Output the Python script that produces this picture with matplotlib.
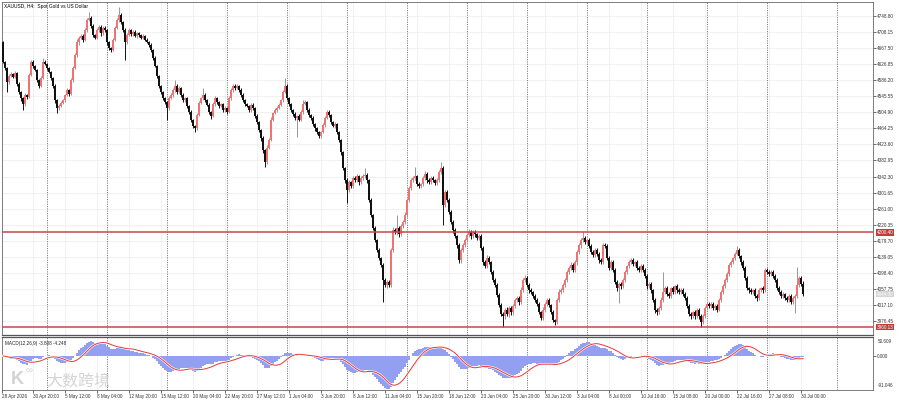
import numpy as np
import pandas as pd
import matplotlib
matplotlib.use("Agg")
import matplotlib.pyplot as plt
from matplotlib.transforms import blended_transform_factory

# XAUUSD H4 closes (one value per bar)
closes = [
    4633, 4617, 4582, 4597, 4602, 4595, 4605, 4577, 4557, 4541,
    4526, 4549, 4544, 4600, 4633, 4623, 4612, 4587, 4572, 4592,
    4633, 4628, 4617, 4607, 4592, 4572, 4536, 4516, 4521, 4529,
    4536, 4549, 4562, 4552, 4587, 4617, 4650, 4683, 4694, 4699,
    4689, 4714, 4739, 4744, 4724, 4701, 4694, 4714, 4722, 4706,
    4719, 4714, 4683, 4668, 4663, 4689, 4719, 4739, 4752, 4734,
    4714, 4683, 4701, 4714, 4704, 4709, 4699, 4706, 4701, 4694,
    4699, 4689, 4683, 4676, 4663, 4643, 4623, 4597, 4572, 4557,
    4541, 4531, 4516, 4541, 4549, 4562, 4572, 4557, 4567, 4549,
    4536, 4541, 4521, 4506, 4486, 4470, 4465, 4498, 4529, 4541,
    4549, 4536, 4524, 4506, 4496, 4526, 4541, 4531, 4521, 4526,
    4511, 4516, 4506, 4541, 4562, 4572, 4567, 4572, 4562, 4549,
    4536, 4526, 4521, 4511, 4524, 4516, 4496, 4480, 4460, 4440,
    4409, 4379, 4415, 4435, 4486, 4503, 4511, 4516, 4524, 4536,
    4557, 4572, 4541, 4526, 4511, 4501, 4491, 4496, 4486, 4506,
    4526, 4531, 4511, 4498, 4491, 4475, 4465, 4455, 4445, 4455,
    4473, 4491, 4506, 4498, 4480, 4470, 4475, 4455, 4435, 4404,
    4364, 4333, 4308, 4328, 4318, 4338, 4333, 4343, 4328, 4338,
    4343, 4346, 4333, 4283, 4245, 4212, 4181, 4156, 4135, 4118,
    4080, 4067, 4075, 4067, 4156, 4206, 4201, 4212, 4196, 4217,
    4227, 4245, 4283, 4313, 4333, 4338, 4343, 4323, 4318, 4323,
    4338, 4349, 4333, 4328, 4338, 4333, 4326, 4333, 4354, 4364,
    4270, 4303, 4283, 4252, 4227, 4206, 4191, 4168, 4130, 4156,
    4168, 4181, 4194, 4201, 4191, 4201, 4196, 4186, 4191, 4161,
    4125, 4115, 4135, 4125, 4100, 4080, 4067, 4042, 4016, 3993,
    3988, 4004, 3993, 4009, 3998, 4014, 4029, 4034, 4024, 4054,
    4080, 4085, 4067, 4054, 4049, 4039, 4029, 4019, 3998, 3983,
    4004, 4019, 4029, 4016, 3998, 3978, 3973, 4029, 4049, 4054,
    4067, 4080, 4100, 4110, 4118, 4105, 4125, 4151, 4168, 4181,
    4186, 4176, 4181, 4166, 4151, 4143, 4156, 4146, 4130, 4125,
    4168, 4166, 4135, 4110, 4125, 4105, 4075, 4059, 4070, 4064,
    4080, 4100, 4115, 4125, 4130, 4120, 4125, 4110, 4105, 4115,
    4105, 4090, 4064, 4070, 4054, 4029, 4004, 3998, 4009, 4029,
    4049, 4059, 4044, 4039, 4059, 4049, 4064, 4054, 4049, 4054,
    4044, 4034, 4014, 3993, 3988, 3998, 3988, 4004, 3988, 3973,
    3988, 4009, 4019, 4014, 4019, 4009, 4014, 4004, 4029, 4049,
    4064, 4080, 4095, 4118, 4125, 4135, 4146, 4156, 4140, 4125,
    4110, 4085, 4059, 4054, 4049, 4054, 4039, 4034, 4054, 4059,
    4054, 4105, 4100, 4095, 4100, 4090, 4080, 4059, 4049, 4039,
    4044, 4034, 4029, 4039, 4024, 4034, 4039, 4067, 4085, 4070,
    4044,
]
first_open = 4683

# upper / lower wick lengths in dollars
wick_up = [
    4, 3, 3, 6, 5, 4, 5, 3, 4, 3,   4, 6, 3, 5, 6, 4, 3, 4, 3, 5,
    10, 4, 3, 4, 3, 3, 4, 3, 5, 4,  4, 3, 5, 3, 4, 5, 6, 8, 5, 6,
    4, 6, 5, 16, 5, 4, 3, 6, 5, 4,  5, 4, 3, 4, 3, 5, 6, 5, 20, 4,
    3, 4, 5, 4, 3, 4, 5, 3, 4, 3,   4, 3, 4, 3, 4, 3, 4, 3, 4, 3,
    3, 4, 3, 6, 4, 5, 15, 4, 5, 3,  4, 3, 4, 3, 4, 3, 4, 6, 5, 4,
    18, 4, 3, 4, 3, 6, 5, 4, 3, 4,  3, 4, 3, 5, 6, 4, 5, 4, 3, 4,
    4, 3, 4, 3, 5, 4, 3, 4, 3, 4,   4, 3, 6, 5, 6, 4, 5, 4, 5, 4,
    6, 20, 4, 3, 4, 3, 4, 3, 5, 4,  10, 5, 3, 4, 3, 4, 3, 4, 3, 4,
    4, 5, 6, 4, 3, 4, 5, 3, 4, 3,   4, 3, 6, 5, 4, 6, 5, 6, 4, 5,
    5, 18, 4, 3, 4, 3, 4, 3, 4, 3,  5, 4, 6, 5, 6, 8, 6, 33, 5, 6,
    5, 6, 4, 5, 6, 5, 23, 4, 5, 4,  5, 6, 4, 5, 6, 5, 4, 5, 6, 15,
    6, 5, 6, 4, 5, 4, 5, 4, 6, 5,   5, 6, 5, 8, 5, 6, 5, 4, 6, 5,
    5, 6, 8, 5, 4, 5, 4, 5, 4, 5,   6, 5, 8, 5, 6, 5, 6, 5, 6, 8,
    6, 8, 5, 4, 5, 4, 5, 4, 5, 4,   6, 5, 6, 5, 4, 5, 4, 6, 8, 5,
    6, 5, 6, 5, 8, 5, 6, 5, 6, 5,   15, 5, 4, 5, 4, 5, 6, 5, 4, 5,
    6, 5, 4, 5, 6, 5, 4, 5, 4, 5,   6, 5, 4, 5, 6, 5, 4, 5, 6, 5,
    5, 6, 5, 4, 5, 4, 5, 4, 6, 8,   51, 5, 6, 5, 4, 5, 4, 5, 6, 5,
    5, 6, 5, 4, 5, 4, 5, 4, 5, 6,   5, 6, 4, 5, 4, 5, 4, 5, 6, 5,
    5, 6, 5, 4, 5, 4, 5, 10, 5, 4,  5, 4, 5, 4, 5, 4, 5, 4, 5, 4,
    5, 6, 5, 4, 5, 4, 5, 4, 5, 6,   5, 4, 5, 4, 5, 4, 5, 46, 6, 5,
    6,
]
wick_dn = [
    3, 5, 25, 4, 3, 4, 3, 4, 5, 6,  15, 4, 5, 3, 4, 5, 3, 6, 4, 3,
    3, 4, 5, 3, 4, 5, 6, 13, 4, 3,  3, 4, 3, 6, 3, 4, 3, 4, 6, 4,
    5, 3, 4, 3, 5, 6, 4, 3, 4, 6,   4, 5, 6, 4, 6, 3, 4, 3, 4, 6,
    5, 45, 4, 3, 5, 4, 3, 5, 4, 3,  3, 4, 3, 5, 4, 6, 4, 5, 6, 5,
    5, 6, 30, 4, 3, 4, 5, 6, 4, 5,  5, 4, 6, 5, 6, 5, 10, 4, 3, 4,
    4, 5, 4, 5, 8, 3, 4, 5, 4, 3,   5, 4, 6, 3, 4, 5, 4, 3, 5, 4,
    5, 4, 3, 6, 4, 5, 6, 5, 6, 7,   6, 13, 5, 4, 3, 4, 3, 4, 3, 4,
    4, 3, 5, 4, 5, 6, 5, 49, 4, 3,  4, 3, 5, 4, 5, 4, 6, 5, 6, 4,
    3, 4, 3, 5, 4, 3, 4, 5, 6, 6,   6, 8, 33, 5, 6, 4, 5, 4, 6, 5,
    4, 5, 6, 6, 5, 6, 5, 6, 5, 6,   56, 6, 8, 5, 4, 6, 5, 6, 8, 5,
    6, 5, 6, 5, 4, 5, 4, 6, 5, 6,   4, 5, 6, 5, 4, 5, 6, 5, 4, 5,
    50, 6, 5, 6, 5, 6, 5, 6, 8, 6,  6, 5, 6, 5, 6, 5, 6, 5, 4, 6,
    6, 5, 6, 5, 6, 5, 6, 5, 6, 5,   28, 6, 5, 6, 8, 6, 5, 6, 8, 5,
    5, 6, 5, 6, 5, 6, 5, 6, 5, 6,   5, 6, 5, 6, 5, 6, 8, 5, 6, 5,
    5, 6, 5, 6, 5, 6, 5, 6, 5, 6,   6, 5, 6, 5, 6, 5, 6, 5, 6, 5,
    5, 6, 5, 6, 5, 6, 5, 8, 38, 6,  5, 6, 5, 6, 5, 6, 5, 6, 5, 6,
    6, 5, 6, 5, 6, 5, 8, 6, 5, 6,   5, 6, 5, 6, 5, 6, 5, 6, 5, 6,
    6, 5, 6, 5, 6, 5, 6, 5, 6, 13,  6, 5, 6, 5, 6, 5, 6, 5, 4, 5,
    5, 4, 5, 6, 5, 4, 5, 4, 5, 6,   5, 6, 5, 6, 5, 6, 5, 8, 6, 5,
    6, 5, 6, 5, 6, 5, 6, 5, 6, 5,   6, 5, 6, 5, 6, 5, 38, 6, 5, 6,
    5,
]

price_ticks = [4748.80, 4708.15, 4667.50, 4626.85, 4586.20, 4545.55, 4504.90,
               4464.25, 4423.60, 4382.95, 4342.30, 4301.65, 4261.00, 4220.35,
               4179.70, 4139.05, 4098.40, 4057.75, 4017.10, 3976.45]
time_labels = ["28 Apr 2026", "30 Apr 20:00", "5 May 12:00", "8 May 04:00",
               "12 May 20:00", "15 May 12:00", "20 May 04:00", "22 May 20:00",
               "27 May 12:00", "1 Jun 04:00", "3 Jun 20:00", "8 Jun 12:00",
               "11 Jun 04:00", "15 Jun 20:00", "18 Jun 12:00", "23 Jun 04:00",
               "25 Jun 20:00", "30 Jun 12:00", "3 Jul 04:00", "8 Jul 00:00",
               "10 Jul 16:00", "15 Jul 08:00", "20 Jul 00:00", "22 Jul 16:00",
               "27 Jul 08:00", "30 Jul 00:00"]
level_hi = 4200.40
level_lo = 3960.13
macd_top = 50.609
macd_bottom = -91.046
title = "XAUUSD, H4:  Spot Gold vs US Dollar"
macd_title = "MACD(12,26,9) -3.808 -4.248"

closes = np.array(closes, dtype=float)
opens = np.concatenate([[first_open], closes[:-1]])
highs = np.maximum(opens, closes) + np.array(wick_up)
lows = np.minimum(opens, closes) - np.array(wick_dn)
n = len(closes)
x = np.arange(n)

s = pd.Series(closes)
macd = s.ewm(span=12, adjust=False).mean() - s.ewm(span=26, adjust=False).mean()
signal = macd.rolling(9, min_periods=1).mean()

label_pos = [-0.5] + [16 * k - 1 for k in range(1, len(time_labels))]
week_sep = [22 + 30 * k for k in range(13)] + [417]

plt.rcParams['font.family'] = ['Liberation Sans', 'DejaVu Sans']
fig = plt.figure(figsize=(9, 4), dpi=100)
fig.patch.set_facecolor("white")

ax = fig.add_axes([2 / 900, 65 / 400, 871 / 900, 333 / 400])
ax2 = fig.add_axes([2 / 900, 10 / 400, 871 / 900, 53 / 400])

bull = closes >= opens
up_col = "#f07272"
dn_col = "#111111"
cols = np.where(bull, up_col, dn_col)

ax.vlines(x, lows, highs, colors=cols, linewidth=0.7, zorder=3)
body_h = np.maximum(np.abs(closes - opens), 2.0)
ax.bar(x, body_h, bottom=np.minimum(opens, closes), width=0.95, color=cols,
       linewidth=0, zorder=4)

ax.set_xlim(-0.5, 435)
ax.set_ylim(3940.2, 4785.0)

ax.axhline(level_hi, color="#c84848", linewidth=1.1, zorder=5)
ax.axhline(level_lo, color="#c84848", linewidth=1.1, zorder=5)

for p in price_ticks:
    ax.axhline(p, color="#ebebeb", linewidth=0.5, zorder=1)
for p in label_pos[1:]:
    ax.axvline(p, color="#ebebeb", linewidth=0.5, zorder=1)
    ax2.axvline(p, color="#ebebeb", linewidth=0.5, zorder=1)
for w in week_sep:
    for a in (ax, ax2):
        a.axvline(w, color="#808080", linewidth=0.7, linestyle=(0, (1.2, 1.2)), zorder=2)

ax.yaxis.tick_right()
ax.set_yticks(price_ticks, labels=[f"{p:.2f}" for p in price_ticks])
ax.tick_params(axis="y", length=2, width=0.5, pad=1, labelsize=3.3, colors="#333333")
ax.set_xticks([])

tr = blended_transform_factory(ax.transAxes, ax.transData)
box = dict(boxstyle="square,pad=0.15", linewidth=0)
ax.text(1.004, level_hi, f"{level_hi:.2f}", transform=tr, fontsize=3.3, color="white",
        va="center", ha="left", bbox=dict(box, facecolor="#c03c3c"), clip_on=False)
ax.text(1.004, level_lo, f"{level_lo:.2f}", transform=tr, fontsize=3.3, color="white",
        va="center", ha="left", bbox=dict(box, facecolor="#c03c3c"), clip_on=False)
ax.text(1.004, closes[-1], f"{closes[-1]:.2f}", transform=tr, fontsize=3.3, color="white",
        va="center", ha="left", bbox=dict(box, facecolor="#d4d4d4"), clip_on=False)

ax.text(0.002, 0.993, title, transform=ax.transAxes, fontsize=3.5, va="top", ha="left")

for a in (ax, ax2):
    for sp in a.spines.values():
        sp.set_color("#666666")
        sp.set_linewidth(0.6)
ax.spines["bottom"].set_linewidth(0.9)
ax2.spines["top"].set_linewidth(0.9)
ax.spines["bottom"].set_color("#555555")
ax2.spines["top"].set_color("#555555")

# MACD panel
ax2.bar(x, macd, width=0.6, color="#93a0f2", linewidth=0, zorder=3)
ax2.plot(x, signal, color="white", linewidth=1.6, zorder=4)
ax2.plot(x, signal, color="#e23a3a", linewidth=0.7, zorder=5)
ax2.set_xlim(-0.5, 435)
ax2.set_ylim(macd_bottom, macd_top)
ax2.yaxis.tick_right()
ax2.set_yticks([0], labels=["0.000"])
ax2.tick_params(axis="y", length=2, width=0.5, pad=1, labelsize=3.3, colors="#333333")
ax2.text(1.006, 0.97, f"{macd_top:.3f}", transform=ax2.transAxes, fontsize=3.3,
         va="top", ha="left", color="#333333")
ax2.text(1.006, 0.04, f"{macd_bottom:.3f}", transform=ax2.transAxes, fontsize=3.3,
         va="bottom", ha="left", color="#333333")
ax2.text(0.004, 0.93, macd_title, transform=ax2.transAxes, fontsize=3.3, va="top",
         ha="left", color="#222222", zorder=6)

ax2.set_xticks(label_pos, labels=time_labels, ha="left")
ax2.tick_params(axis="x", length=2, width=0.5, pad=1, labelsize=3.3, colors="#333333")

# watermark
fig.text(0.012, 0.05, "K", fontsize=13, color="#d2d2d2", va="center", ha="left",
         fontweight="bold", zorder=10)
fig.text(0.028, 0.075, "∞", fontsize=7, color="#d2d2d2", va="center", ha="left", zorder=10)
fig.text(0.052, 0.048, "大数跨境", fontsize=11.5, color="#d0d0d0", va="center", ha="left",
         family=["Noto Sans CJK SC", "DejaVu Sans"], zorder=10, alpha=0.9)

fig.savefig("out.png", dpi=100)
